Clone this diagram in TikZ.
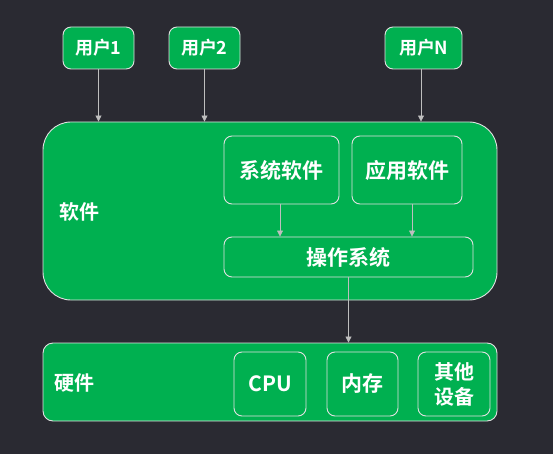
\documentclass[tikz,border=0pt]{standalone}
\usepackage{fontspec}
\setmainfont{Noto Sans CJK SC}[BoldFont={Noto Sans CJK SC Bold}]
\usetikzlibrary{arrows.meta}
\definecolor{bg}{RGB}{42,42,50}
\definecolor{boxgreen}{RGB}{0,176,80}
\definecolor{edge}{RGB}{225,225,225}
\definecolor{arrowgray}{RGB}{190,190,190}
\begin{document}
\begin{tikzpicture}[x=1pt,y=-1pt,
  box/.style={draw=edge,line width=0.9pt,fill=boxgreen,rounded corners=#1,
    inner sep=0pt,text=white,font=\bfseries,align=center},
  box/.default=8pt,
  lbl/.style={text=white,font=\bfseries\fontsize{20}{22}\selectfont,inner sep=0pt},
  userfont/.style={font=\bfseries\fontsize{18}{20}\selectfont},
  bigfont/.style={font=\bfseries\fontsize{21}{25}\selectfont},
  arr/.style={draw=arrowgray,line width=0.8pt,-{Triangle[length=6pt,width=6pt]}}]
  \fill[bg] (0,0) rectangle (553,454);
  \useasboundingbox (0,0) rectangle (553,454);

  % users
  \node[box,minimum width=71pt,minimum height=42pt,userfont] (u1) at (98.5,48) {用户\kern-1.5pt1};
  \node[box,minimum width=71pt,minimum height=42pt,userfont] (u2) at (204.5,48) {用户\kern-1pt2};
  \node[box,minimum width=77pt,minimum height=42pt,userfont] (un) at (423.5,48) {用户\kern-1pt N};

  % software layer
  \node[box=28pt,minimum width=454pt,minimum height=178pt] (sw) at (270,211) {};
  \node[lbl,anchor=west] (swl) at (59,212) {软件};
  \node[box,minimum width=115pt,minimum height=68pt,bigfont] (sys) at (281.5,170) {系统软件};
  \node[box,minimum width=110pt,minimum height=68pt,bigfont] (app) at (407,170) {应用软件};
  \node[box,minimum width=249pt,minimum height=40pt,bigfont] (os) at (348.5,257) {操作系统};

  % hardware layer
  \node[box=10pt,minimum width=454pt,minimum height=78pt] (hw) at (270,382) {};
  \node[lbl,anchor=west] (hwl) at (54,383) {硬件};
  \node[box,minimum width=72pt,minimum height=64pt,bigfont] (cpu) at (270,384) {CPU};
  \node[box,minimum width=71pt,minimum height=64pt,bigfont] (mem) at (362.5,384) {内存};
  \node[box,minimum width=72pt,minimum height=64pt,font=\bfseries\fontsize{20}{25}\selectfont] (oth) at (454,384) {其他\\设备};

  % connectors
  \draw[arr] (u1.south) -- (u1.south |- sw.north);
  \draw[arr] (u2.south) -- (u2.south |- sw.north);
  \draw[arr] ([xshift=-2.5pt]un.south) -- ([xshift=-2.5pt]un.south |- sw.north);
  \draw[arr] ([xshift=-1.5pt]sys.south) -- ([xshift=-1.5pt]sys.south |- os.north);
  \draw[arr] ([xshift=5pt]app.south) -- ([xshift=5pt]app.south |- os.north);
  \draw[arr] (os.south) -- (os.south |- hw.north);
\end{tikzpicture}
\end{document}
